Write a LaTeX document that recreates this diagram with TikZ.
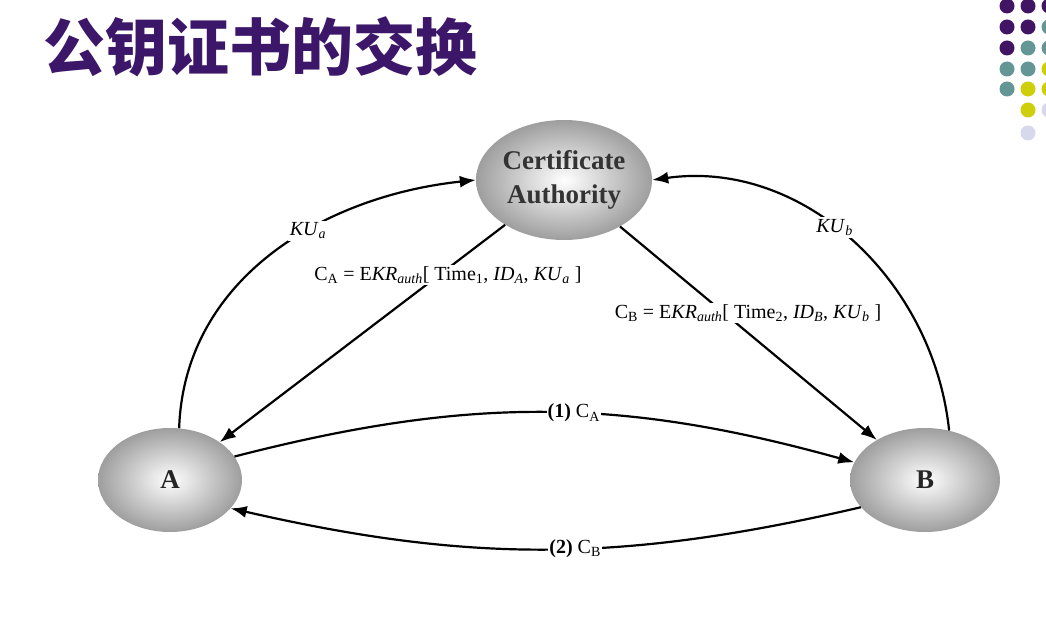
\documentclass[tikz,border=0pt]{standalone}
\usepackage{fontspec}
\setmainfont{Liberation Serif}
\newfontfamily\cjk{Noto Sans CJK SC}
\usetikzlibrary{shapes.geometric, arrows.meta, positioning, calc}
\definecolor{titlepurple}{RGB}{60,22,104}
\definecolor{dotpurple}{RGB}{66,20,100}
\definecolor{dotteal}{RGB}{100,150,150}
\definecolor{dotyellow}{RGB}{206,206,10}
\definecolor{dotlilac}{RGB}{216,216,236}
\tikzset{
    party/.style={ellipse, shade, inner color=white, outer color=black!38, minimum width=144pt, minimum height=104pt, text=black!85, font=\bfseries\fontsize{27}{30}\selectfont},
    authority/.style={ellipse, shade, inner color=white, outer color=black!38, inner sep=0pt, minimum width=176pt, minimum height=120pt, align=center, text=black!80, font=\bfseries\fontsize{27}{34}\selectfont},
    link/.style={-{Latex[length=16pt,width=12pt]}, line width=2.2pt},
    keylbl/.style={fill=white, inner sep=2pt, font=\fontsize{20}{22}\selectfont},
    certlbl/.style={fill=white, inner sep=1pt, font=\fontsize{20}{22}\selectfont},
    msglbl/.style={fill=white, inner sep=1pt, font=\fontsize{20}{22}\selectfont},
}
\begin{document}
\begin{tikzpicture}[x=1pt,y=1pt]
\useasboundingbox (0,0) rectangle (1046,643);
% title
\node[anchor=west, text=titlepurple, font=\cjk\bfseries\fontsize{62}{62}\selectfont] (title) at (40,596) {公钥证书的交换};
% corner dots
\begin{scope}
    \clip (0,0) rectangle (1046,643);
    \foreach \cx/\cy/\cc in {1007/637/dotpurple, 1028/637/dotpurple, 1049/637/dotpurple,
                            1007/616/dotpurple, 1028/616/dotpurple, 1049/616/dotteal,
                            1007/595/dotpurple, 1028/595/dotteal, 1049/595/dotteal,
                            1007/574/dotteal, 1028/574/dotteal, 1049/574/dotyellow,
                            1007/554/dotteal, 1028/554/dotyellow, 1049/554/dotyellow,
                            1028/533/dotyellow, 1049/533/dotlilac,
                            1028/510/dotlilac}
        \fill[\cc] (\cx,\cy) circle (7.5);
\end{scope}
% the three parties
\node[authority] (ca) at (564,463) {Certificate\\Authority};
\node[party] (a) at (170,163) {A};
\node[party, minimum width=150pt] (b) at (925,163) {B};
% public keys sent to the CA
\draw[link] (a.80) to[out=88, in=186] node[keylbl, pos=0.6] (kua) {\textit{KU}\textsubscript{\textit{a}}} (ca.west);
\draw[link] (b.64) to[out=96, in=8] node[keylbl, pos=0.55] (kub) {\textit{KU}\textsubscript{\textit{b}}} (ca.east);
% certificates back from the CA
\draw[link] (ca) -- (a);
\draw[link] (ca) -- (b);
\node[certlbl] (certa) at (448,368) {C\textsubscript{A} = E\textit{KR}\textsubscript{\textit{auth}}[ Time\textsubscript{1}, \textit{ID}\textsubscript{\textit{A}}, \textit{KU}\textsubscript{\textit{a}} ]};
\node[certlbl] (certb) at (748,330) {C\textsubscript{B} = E\textit{KR}\textsubscript{\textit{auth}}[ Time\textsubscript{2}, \textit{ID}\textsubscript{\textit{B}}, \textit{KU}\textsubscript{\textit{b}} ]};
% exchange between A and B
\draw[link] (a.20) to[bend left=15] node[msglbl, pos=0.55] (msga) {\textbf{(1)} C\textsubscript{A}} (b.166);
\draw[link] (b.203) to[bend left=13] node[msglbl, pos=0.45] (msgb) {\textbf{(2)} C\textsubscript{B}} (a.335);
\end{tikzpicture}
\end{document}
